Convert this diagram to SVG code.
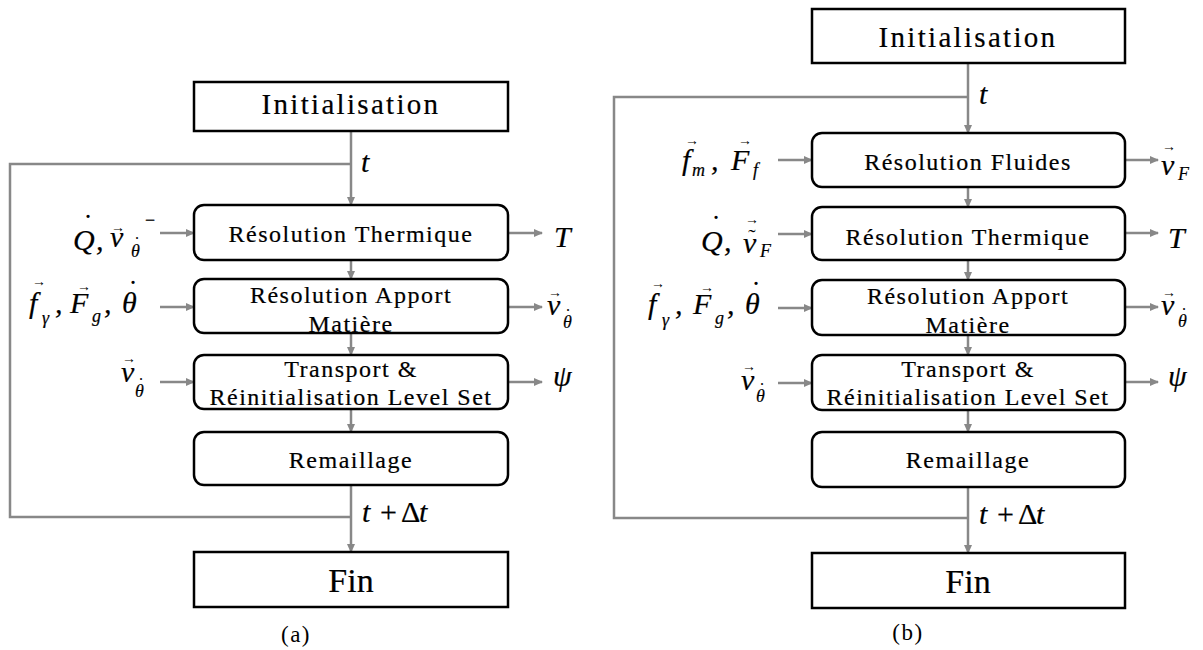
<svg xmlns="http://www.w3.org/2000/svg" width="1203" height="650" viewBox="0 0 1203 650" font-family="'Liberation Serif','Times New Roman',serif">
<style>
.box{fill:#fff;stroke:#000;stroke-width:2.5}
text{font-family:'Liberation Serif','Times New Roman',serif;fill:#000}
.lbl{font-size:24px;letter-spacing:1.5px;text-anchor:middle;stroke:#000;stroke-width:0.2}
.big{font-size:29px;letter-spacing:2.3px}
.fin{font-size:34px;letter-spacing:0}
.m{font-style:italic;font-size:30px;stroke:#000;stroke-width:0.2}
.s{font-size:18px}
.up{font-style:normal}
.acc{font-style:normal;text-anchor:middle;stroke-width:0}
.sacc{font-style:normal;font-size:18px;text-anchor:middle;stroke-width:0}
.vec{font-style:normal;font-size:14px;text-anchor:middle;stroke-width:0}
.cap{font-size:23px;letter-spacing:1.5px;text-anchor:middle}
.conn path{fill:none;stroke:#888;stroke-width:2.5}
</style>
<defs>
<marker id="ah" markerUnits="userSpaceOnUse" markerWidth="9" markerHeight="8" refX="8" refY="4" orient="auto">
<path d="M0,0 L9,4 L0,8 z" fill="#888"/>
</marker>
</defs>
<g class="conn">
<path d="M351,131 V205" marker-end="url(#ah)"/>
<path d="M351,260 V279" marker-end="url(#ah)"/>
<path d="M351,333 V355" marker-end="url(#ah)"/>
<path d="M351,409 V432" marker-end="url(#ah)"/>
<path d="M351,485 V552" marker-end="url(#ah)"/>
<path d="M351,517 H10 V164 H351"/>
<path d="M160,233 H194" marker-end="url(#ah)"/>
<path d="M160,307 H194" marker-end="url(#ah)"/>
<path d="M160,382 H194" marker-end="url(#ah)"/>
<path d="M508,233 H542" marker-end="url(#ah)"/>
<path d="M508,307 H542" marker-end="url(#ah)"/>
<path d="M508,382 H542" marker-end="url(#ah)"/>
<path d="M968,63 V133" marker-end="url(#ah)"/>
<path d="M968,187 V207" marker-end="url(#ah)"/>
<path d="M968,260 V280" marker-end="url(#ah)"/>
<path d="M968,335 V355" marker-end="url(#ah)"/>
<path d="M968,410 V432" marker-end="url(#ah)"/>
<path d="M968,487 V553" marker-end="url(#ah)"/>
<path d="M968,518 H614 V97 H968"/>
<path d="M778,160 H812" marker-end="url(#ah)"/>
<path d="M778,234 H812" marker-end="url(#ah)"/>
<path d="M778,308 H812" marker-end="url(#ah)"/>
<path d="M778,383 H812" marker-end="url(#ah)"/>
<path d="M1125,160 H1158" marker-end="url(#ah)"/>
<path d="M1125,233 H1158" marker-end="url(#ah)"/>
<path d="M1125,307 H1158" marker-end="url(#ah)"/>
<path d="M1125,382 H1158" marker-end="url(#ah)"/>
</g>
<!-- Diagram (a) -->
<g id="a-init"><rect class="box" x="194" y="82" width="314" height="49"/><text class="lbl big" x="351" y="114">Initialisation</text></g>
<g id="a-thermique"><rect class="box" x="194" y="205" width="314" height="55" rx="10"/><text class="lbl" x="351" y="242">Résolution Thermique</text></g>
<g id="a-apport"><rect class="box" x="194" y="279" width="314" height="54" rx="10"/><text class="lbl" x="351" y="303">Résolution Apport</text><text class="lbl" x="351" y="332">Matière</text></g>
<g id="a-transport"><rect class="box" x="194" y="355" width="314" height="54" rx="10"/><text class="lbl" x="351" y="377">Transport &amp;</text><text class="lbl" x="351" y="405">Réinitialisation Level Set</text></g>
<g id="a-remaillage"><rect class="box" x="194" y="432" width="314" height="53" rx="10"/><text class="lbl" x="351" y="468">Remaillage</text></g>
<g id="a-fin"><rect class="box" x="194" y="552" width="314" height="55"/><text class="lbl fin" x="351" y="592">Fin</text></g>
<g id="a-labels">
<text class="m" x="361" y="172">t</text>
<text class="m" x="362" y="522">t<tspan class="up" x="380">+</tspan><tspan class="up" x="401">Δ</tspan><tspan x="419">t</tspan></text>
<text class="cap" x="296" y="642">(a)</text>
</g>
<g id="a-in-thermique">
<text class="m"><tspan x="73" y="250">Q</tspan><tspan class="acc" x="88" y="235">˙</tspan><tspan x="96" y="250">,</tspan><tspan x="110" y="247">v</tspan><tspan class="vec" x="118" y="232">→</tspan><tspan class="s" x="131" y="257">θ</tspan><tspan class="sacc" x="137" y="250">˙</tspan><tspan class="s up" x="145" y="226">−</tspan></text>
</g>
<g id="a-in-apport">
<text class="m"><tspan x="29" y="313">f</tspan><tspan class="vec" x="39" y="286">→</tspan><tspan class="s" x="42" y="324">γ</tspan><tspan x="55" y="313">,</tspan><tspan x="70" y="313">F</tspan><tspan class="vec" x="84" y="291">→</tspan><tspan class="s" x="92" y="322">g</tspan><tspan x="104" y="313">,</tspan><tspan x="122" y="313">θ</tspan><tspan class="acc" x="133" y="301">˙</tspan></text>
</g>
<g id="a-in-transport">
<text class="m"><tspan x="121" y="382">v</tspan><tspan class="vec" x="129" y="363">→</tspan><tspan class="s" x="135" y="397">θ</tspan><tspan class="sacc" x="141" y="391">˙</tspan></text>
</g>
<g id="a-out-thermique"><text class="m" x="554" y="247">T</text></g>
<g id="a-out-apport">
<text class="m"><tspan x="547" y="315">v</tspan><tspan class="vec" x="555" y="297">→</tspan><tspan class="s" x="563" y="328">θ</tspan><tspan class="sacc" x="568" y="322">˙</tspan></text>
</g>
<g id="a-out-transport"><text class="m" x="553" y="386">ψ</text></g>
<!-- Diagram (b) -->
<g id="b-init"><rect class="box" x="812" y="9" width="313" height="54"/><text class="lbl big" x="968" y="47">Initialisation</text></g>
<g id="b-fluides"><rect class="box" x="812" y="133" width="313" height="54" rx="10"/><text class="lbl" x="968" y="170">Résolution Fluides</text></g>
<g id="b-thermique"><rect class="box" x="812" y="207" width="313" height="53" rx="10"/><text class="lbl" x="968" y="245">Résolution Thermique</text></g>
<g id="b-apport"><rect class="box" x="812" y="280" width="313" height="55" rx="10"/><text class="lbl" x="968" y="304">Résolution Apport</text><text class="lbl" x="968" y="333">Matière</text></g>
<g id="b-transport"><rect class="box" x="812" y="355" width="313" height="55" rx="10"/><text class="lbl" x="968" y="377">Transport &amp;</text><text class="lbl" x="968" y="405">Réinitialisation Level Set</text></g>
<g id="b-remaillage"><rect class="box" x="812" y="432" width="313" height="55" rx="10"/><text class="lbl" x="968" y="468">Remaillage</text></g>
<g id="b-fin"><rect class="box" x="812" y="553" width="313" height="55"/><text class="lbl fin" x="968" y="593">Fin</text></g>
<g id="b-labels">
<text class="m" x="979" y="104">t</text>
<text class="m" x="979" y="524">t<tspan class="up" x="997">+</tspan><tspan class="up" x="1018">Δ</tspan><tspan x="1036">t</tspan></text>
<text class="cap" x="908" y="640">(b)</text>
</g>
<g id="b-in-fluides">
<text class="m"><tspan x="682" y="170">f</tspan><tspan class="vec" x="692" y="145">→</tspan><tspan class="s" x="692" y="176">m</tspan><tspan x="711" y="170">,</tspan><tspan x="731" y="170">F</tspan><tspan class="vec" x="745" y="145">→</tspan><tspan class="s" x="753" y="176">f</tspan></text>
</g>
<g id="b-in-thermique">
<text class="m"><tspan x="701" y="251">Q</tspan><tspan class="acc" x="716" y="236">˙</tspan><tspan x="724" y="251">,</tspan><tspan x="743" y="253">v</tspan><tspan class="acc" x="752" y="244" style="font-size:22px">˜</tspan><tspan class="vec" x="752" y="224">→</tspan><tspan class="s" x="760" y="257">F</tspan></text>
</g>
<g id="b-in-apport">
<text class="m"><tspan x="648" y="314">f</tspan><tspan class="vec" x="658" y="288">→</tspan><tspan class="s" x="662" y="326">γ</tspan><tspan x="675" y="314">,</tspan><tspan x="693" y="314">F</tspan><tspan class="vec" x="707" y="292">→</tspan><tspan class="s" x="715" y="324">g</tspan><tspan x="727" y="314">,</tspan><tspan x="745" y="314">θ</tspan><tspan class="acc" x="756" y="302">˙</tspan></text>
</g>
<g id="b-in-transport">
<text class="m"><tspan x="741" y="390">v</tspan><tspan class="vec" x="749" y="371">→</tspan><tspan class="s" x="756" y="402">θ</tspan><tspan class="sacc" x="762" y="396">˙</tspan></text>
</g>
<g id="b-out-fluides">
<text class="m"><tspan x="1161" y="175">v</tspan><tspan class="vec" x="1169" y="151">→</tspan><tspan class="s" x="1178" y="180">F</tspan></text>
</g>
<g id="b-out-thermique"><text class="m" x="1168" y="248">T</text></g>
<g id="b-out-apport">
<text class="m"><tspan x="1161" y="315">v</tspan><tspan class="vec" x="1169" y="297">→</tspan><tspan class="s" x="1178" y="327">θ</tspan><tspan class="sacc" x="1184" y="321">˙</tspan></text>
</g>
<g id="b-out-transport"><text class="m" x="1168" y="386">ψ</text></g>
</svg>
